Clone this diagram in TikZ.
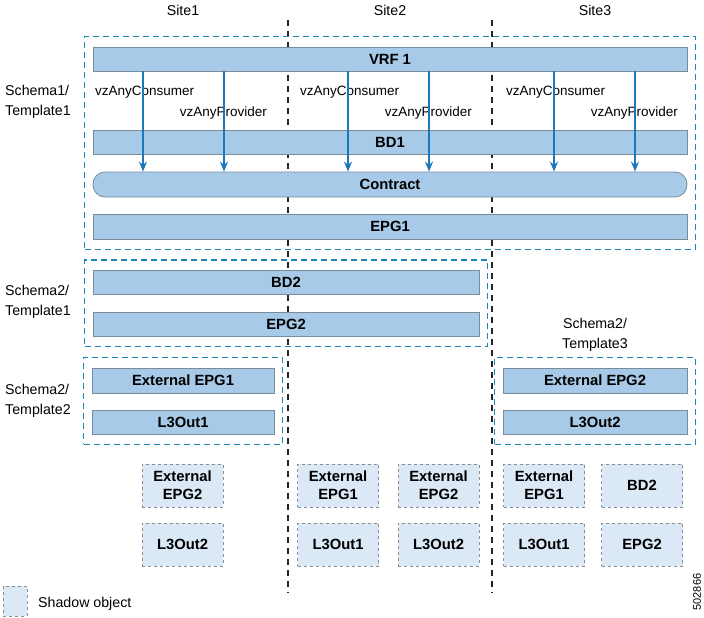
\documentclass[tikz,border=0pt]{standalone}
\usepackage{fontspec}
\setmainfont{Liberation Sans}
\usetikzlibrary{fit,arrows.meta}
\definecolor{barfill}{HTML}{A6CAE7}
\definecolor{barline}{HTML}{7A8C99}
\definecolor{shadfill}{HTML}{DBE8F5}
\definecolor{shadline}{HTML}{8C8C8C}
\definecolor{tmplblue}{HTML}{1F86BA}
\definecolor{vzblue}{HTML}{1B78BA}
\tikzset{
  bar/.style={draw=barline, fill=barfill, line width=0.8pt, inner sep=0pt,
    minimum height=24pt, font=\fontsize{14.8}{16}\selectfont\bfseries},
  shadowbox/.style={draw=shadline, fill=shadfill, dashed, line width=0.8pt, inner sep=0pt,
    minimum width=81pt, minimum height=43pt, align=center,
    font=\fontsize{14.8}{18}\selectfont\bfseries},
  tmplbox/.style={draw=tmplblue, dash pattern=on 6pt off 4pt, line width=1.5pt,
    inner xsep=8pt, inner ysep=10pt},
  siteline/.style={draw=black!85, dash pattern=on 6pt off 5pt, line width=1.2pt},
  vz/.style={draw=vzblue, line width=1.3pt, -{Stealth[length=10pt,width=8pt]}},
  lbl/.style={font=\fontsize{14.2}{20}\selectfont, align=left, inner sep=0pt},
  vzlbl/.style={font=\fontsize{13.5}{16}\selectfont, inner sep=0pt}
}
\begin{document}
\begin{tikzpicture}[x=1pt, y=-1pt]
    \useasboundingbox (0,0) rectangle (704,618);

    % sites
    \node[lbl] (site1) at (183,10) {Site1};
    \node[lbl] (site2) at (390,10) {Site2};
    \node[lbl] (site3) at (595,10) {Site3};
    \coordinate (s2top) at (288,20);
    \coordinate (s2bot) at (288,593);
    \coordinate (s3top) at (492,20);
    \coordinate (s3bot) at (492,593);
    \draw[siteline] (s2top) -- (s2bot);
    \draw[siteline] (s3top) -- (s3bot);

    % Schema1/Template1
    \node[bar, minimum width=594pt] (vrf) at (390,59) {VRF 1};
    \node[bar, minimum width=594pt] (bd1) at (390,142.5) {BD1};
    \node[bar, minimum width=594pt, rounded corners=12pt, minimum height=25pt] (contract) at (390,184.5) {Contract};
    \node[bar, minimum width=594pt, minimum height=25pt] (epg1) at (390,226.5) {EPG1};
    \node[tmplbox, fit=(vrf)(epg1)] (t11) {};
    \node[lbl, anchor=west] (t11lbl) at (5,102) {Schema1/\\Template1};

    \foreach \c/\p [count=\i] in {143/224, 348/429, 554/635} {
        \coordinate (cons\i) at (\c,0);
        \coordinate (prov\i) at (\p,0);
        \node[vzlbl, anchor=west] at (\c-48,92) {vzAnyConsumer};
        \node[vzlbl, anchor=east] at (\p+43,113) {vzAnyProvider};
        \draw[vz] (vrf.south -| cons\i) -- (contract.north -| cons\i);
        \draw[vz] (vrf.south -| prov\i) -- (contract.north -| prov\i);
    }

    % Schema2/Template1
    \node[bar, minimum width=386pt] (bd2) at (286,282.5) {BD2};
    \node[bar, minimum width=386pt] (epg2) at (286,324) {EPG2};
    \node[tmplbox, fit=(bd2)(epg2)] (t21) {};
    \node[lbl, anchor=west] (t21lbl) at (5,302) {Schema2/\\Template1};

    % Schema2/Template2
    \node[bar, minimum width=182pt, minimum height=25pt] (ext1) at (183,380.5) {External EPG1};
    \node[bar, minimum width=182pt] (l3o1) at (183,422) {L3Out1};
    \node[tmplbox, fit=(ext1)(l3o1)] (t22) {};
    \node[lbl, anchor=west] (t22lbl) at (5,401) {Schema2/\\Template2};

    % Schema2/Template3
    \node[bar, minimum width=184pt, minimum height=25pt] (ext2) at (595,380.5) {External EPG2};
    \node[bar, minimum width=184pt] (l3o2) at (595,422) {L3Out2};
    \node[tmplbox, fit=(ext2)(l3o2)] (t23) {};
    \node[lbl, align=center] (t23lbl) at (595,335) {Schema2/\\Template3};

    % shadow objects
    \node[shadowbox] (sh1a) at (182.5,485.5) {External\\EPG2};
    \node[shadowbox] (sh1b) at (182.5,544.5) {L3Out2};
    \node[shadowbox] (sh2a) at (338,485.5) {External\\EPG1};
    \node[shadowbox] (sh2b) at (338,544.5) {L3Out1};
    \node[shadowbox] (sh2c) at (438.5,485.5) {External\\EPG2};
    \node[shadowbox] (sh2d) at (438.5,544.5) {L3Out2};
    \node[shadowbox] (sh3a) at (544,485.5) {External\\EPG1};
    \node[shadowbox] (sh3b) at (544,544.5) {L3Out1};
    \node[shadowbox] (sh3c) at (642,485.5) {BD2};
    \node[shadowbox] (sh3d) at (642,544.5) {EPG2};

    % legend
    \node[shadowbox, minimum width=24pt, minimum height=30pt] (legbox) at (15,601) {};
    \node[lbl, anchor=west] (legtxt) at (38,604) {Shadow object};
    \node[font=\fontsize{11}{12}\selectfont, rotate=90, inner sep=0pt] (fignum) at (697,592) {502866};
\end{tikzpicture}
\end{document}
